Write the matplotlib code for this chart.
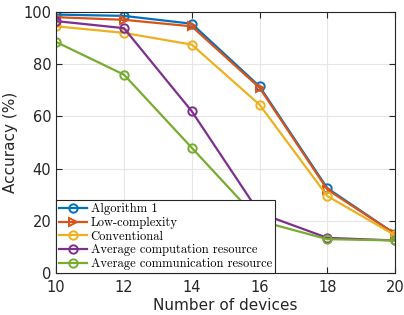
import numpy as np
import matplotlib.pyplot as plt

# data
devices = [10, 12, 14, 16, 18, 20]
alg1 = [99.0, 98.5, 95.5, 71.5, 32.5, 15.0]
low_cplx = [98.0, 97.0, 94.5, 71.0, 32.0, 15.0]
conventional = [94.5, 92.0, 87.5, 64.5, 29.5, 14.5]
avg_comp = [96.5, 93.8, 62.0, 23.0, 13.5, 12.5]
avg_comm = [88.5, 76.0, 48.0, 20.0, 13.0, 12.5]

fig = plt.figure(figsize=(4.04, 3.15), dpi=100)
ax = fig.add_axes([0.139, 0.133, 0.839, 0.829])

kw = dict(lw=1.6, markersize=6, markerfacecolor='none', markeredgewidth=1.4)
ax.plot(devices, alg1, '-o', color='#0072BD', label='Algorithm 1', **kw)
ax.plot(devices, low_cplx, '->', color='#D95319', label='Low-complexity', **kw)
ax.plot(devices, conventional, '-o', color='#EDB120', label='Conventional', **kw)
ax.plot(devices, avg_comp, '-o', color='#7E2F8E', label='Average computation resource', **kw)
ax.plot(devices, avg_comm, '-o', color='#77AC30', label='Average communication resource', **kw)

ax.set_xlim(10, 20)
ax.set_ylim(0, 100)
ax.set_xticks([10, 12, 14, 16, 18, 20])
ax.set_yticks([0, 20, 40, 60, 80, 100])
ax.grid(True, color='#e6e6e6', lw=0.8)
ax.set_axisbelow(True)
ax.tick_params(direction='in', top=True, right=True, labelsize=10.5, colors='#262626', length=4)
ax.tick_params(axis='x', pad=5)
for s in ax.spines.values():
    s.set_color('#262626')
    s.set_linewidth(0.8)
ax.set_xlabel('Number of devices', fontsize=11, color='#262626', labelpad=2)
ax.set_ylabel('Accuracy (%)', fontsize=11, color='#262626')

leg = ax.legend(loc='lower left', borderaxespad=0, fancybox=False, framealpha=1,
                edgecolor='#262626', prop={'family': 'cmr10', 'size': 9},
                handlelength=2.2, handletextpad=0.3, labelspacing=0.12, borderpad=0.25)
leg.get_frame().set_linewidth(0.8)

fig.savefig('out.png', dpi=100)
